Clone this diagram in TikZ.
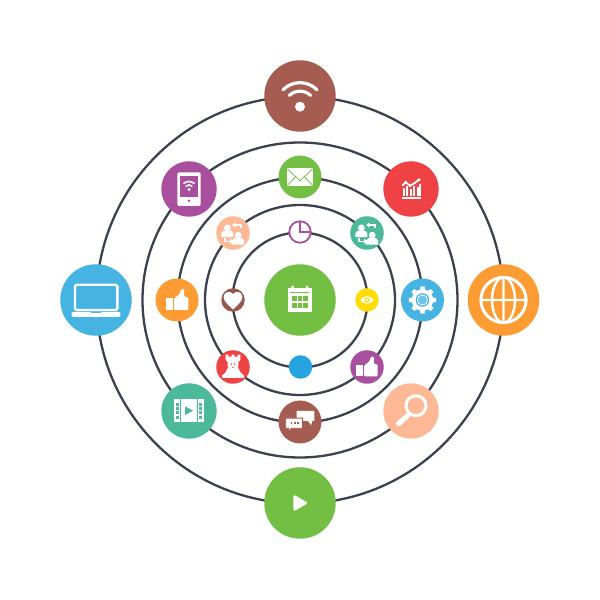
\documentclass[tikz,border=0pt]{standalone}
\definecolor{ringc}{HTML}{3C4150}
\definecolor{brownc}{HTML}{A65D51}
\definecolor{heartc}{HTML}{96584E}
\definecolor{purplec}{HTML}{A8509E}
\definecolor{redc}{HTML}{EE4245}
\definecolor{greenc}{HTML}{72BF44}
\definecolor{peachc}{HTML}{FDB995}
\definecolor{tealc}{HTML}{4CB99A}
\definecolor{bluec}{HTML}{45B4E2}
\definecolor{orangec}{HTML}{FD9C33}
\definecolor{yellowc}{HTML}{FEDD00}
\definecolor{dotc}{HTML}{26A4DF}
\tikzset{
  ring/.style={draw=ringc,line width=2.3pt},
  disc/.style={circle,inner sep=0pt,minimum size=#1,draw=none},
  bigdisc/.style={disc=71.5pt},
  middisc/.style={disc=55.5pt},
  smalldisc/.style={disc=43pt},
  tinydisc/.style={disc=33.5pt},
  pointdisc/.style={disc=23.5pt},
  wline/.style={draw=white,line cap=round},
  person/.pic={
    \fill[white] (0,0) circle (3.4);
    \fill[white] (-6,-9.4) -- (-6,-5.6) .. controls (-5.8,-3.2) and (-3.4,-2.6) .. (0,-2.6) .. controls (3.4,-2.6) and (5.8,-3.2) .. (6,-5.6) -- (6,-9.4) -- cycle;
  },
  peoplepic/.pic={
    \pic at (-5.6,5.2) {person};
    \pic at (5.2,-2.2) {person};
    \draw[white,line width=1.5pt] (8,4.6) -- (8,8) -- (2,8);
    \fill[white] (2.4,10.6) -- (-0.9,8) -- (2.4,5.4) -- cycle;
    \draw[white,line width=1.5pt] (-8.2,-5) -- (-8.2,-8.5) -- (-2.4,-8.5);
    \fill[white] (-2.8,-5.9) -- (0.5,-8.5) -- (-2.8,-11.1) -- cycle;
  },
  thumbpic/.pic={
    \fill[white] (-11.5,1.6) rectangle (-4,-10);
    \fill[white,rounded corners=1pt] (-2.9,1.6) -- (2.2,5.4) -- (4.3,10.8) -- (7.2,10.8) -- (7.2,3.4) -- (11.3,2.6) -- (11.3,-10) -- (-2.9,-10) -- cycle;
  },
  wifipic/.pic={
    \fill[white] (0,-10.7) circle (5);
    \begin{scope}[shift={(0,-10.7)},wline,line width=3.2pt]
      \draw (45:24) arc[start angle=45,end angle=135,radius=24];
      \draw (47:15.5) arc[start angle=47,end angle=133,radius=15.5];
    \end{scope}
  },
  tabletpic/.pic={
    \fill[white,rounded corners=2pt] (-11.7,16.7) rectangle (11.7,-17);
    \fill[purplec] (-8.9,13.2) rectangle (8.9,-8);
    \fill[purplec] (0,-11.8) circle (1.3);
    \fill[white] (0,-0.5) circle (1.6);
    \begin{scope}[wline,line width=1.6pt,shift={(0,-0.5)}]
      \draw (50:4.5) arc[start angle=50,end angle=130,radius=4.5];
      \draw (50:8) arc[start angle=50,end angle=130,radius=8];
    \end{scope}
  },
  chartpic/.pic={
    \fill[white] (-9.3,-8.4) rectangle (10,-10.2);
    \foreach \bx/\bt in {-7.5/1,-4/3.3,-0.5/0.2,3/2.8,6.5/1.5,8.8/5}{
      \fill[white] (\bx-1,-6.6) rectangle (\bx+1,\bt);
    }
    \draw[white,line width=1.8pt,line join=round] (-8.7,3.3) -- (-5.3,6.7) -- (-1,3.3) -- (3.3,5.7) -- (8,9.3);
    \foreach \dx/\dy in {-5.3/6.7,-1/3.3,8/9.3}{\fill[white] (\dx,\dy) circle (1.6);}
  },
  envpic/.pic={
    \fill[white] (-13.3,8.8) rectangle (13.3,-9);
    \draw[greenc,line width=0.8pt] (-12.6,8) -- (0,-3.7) -- (12.6,8);
    \draw[greenc,line width=0.8pt] (-12.6,-8.4) -- (-4.4,0.2) (12.6,-8.4) -- (4.4,0.2);
  },
  piepic/.pic={
    \draw[purplec,line width=1.6pt] (0,10.6) -- (0,0) -- (10.6,0);
  },
  heartpic/.pic={
    \fill[white] (0,-9.4) .. controls (-3,-6.4) and (-9.4,-2) .. (-9.4,3) .. controls (-9.4,8.4) and (-2.6,9.6) .. (0,6) .. controls (2.6,9.6) and (9.4,8.4) .. (9.4,3) .. controls (9.4,-2) and (3,-6.4) .. (0,-9.4) -- cycle;
  },
  rookpic/.pic={
    \fill[white] (-7.4,12.4) -- (-4.6,12.4) -- (-4.6,10.4) -- (-1.4,10.4) -- (-1.4,12.4) -- (1.4,12.4) -- (1.4,10.4) -- (4.6,10.4) -- (4.6,12.4) -- (7.4,12.4) -- (7.4,7.2) -- (5.4,5) -- (5.2,-1) -- (7.6,-5.6) -- (11,-8.6) -- (11,-11) -- (-11,-11) -- (-11,-8.6) -- (-7.6,-5.6) -- (-5.2,-1) -- (-5.4,5) -- (-7.4,7.2) -- cycle;
    \fill[redc] (-1.7,2.8) circle (0.8) (1.7,2.8) circle (0.8) (0,-0.4) circle (0.8);
  },
  bubblepic/.pic={
    \fill[white] (-3.3,11.2) -- (14.3,11.2) -- (14.3,1) -- (12.2,1) -- (11.2,-3.2) -- (8,1) -- (-3.3,1) -- cycle;
    \filldraw[fill=white,draw=brownc,line width=0.9pt] (-14.3,3.9) -- (2.6,3.9) -- (2.6,-6.3) -- (-8.6,-6.3) -- (-11.5,-9.5) -- (-11.5,-6.3) -- (-14.3,-6.3) -- cycle;
    \foreach \dx in {-8.4,-5.1,-1.8}{\fill[brownc] (\dx-0.8,-0.4) rectangle (\dx+0.8,-2);}
  },
  videopic/.pic={
    \fill[white] (-14.7,12) rectangle (14.7,-10.8);
    \draw[tealc,line width=0.8pt] (-8.6,12) -- (-8.6,-10.8) (8.6,12) -- (8.6,-10.8);
    \foreach \hy in {6.8,2.4,-2,-6.4}{
      \fill[tealc] (-13,\hy+1.5) rectangle (-10.2,\hy-1.5);
      \fill[tealc] (10.2,\hy+1.5) rectangle (13,\hy-1.5);
    }
    \fill[tealc] (-4,4.6) -- (-4,-4) -- (4,0.3) -- cycle;
  },
  searchpic/.pic={
    \draw[white,line width=3pt] (5,5.3) circle (10);
    \draw[wline,line width=5pt] (-3,-4.3) -- (-12.4,-12.6);
  },
  playpic/.pic={
    \fill[white,rounded corners=2.3pt] (-6.6,8.6) -- (8.2,0) -- (-6.6,-8.6) -- cycle;
  },
  laptoppic/.pic={
    \draw[white,line width=2.4pt,rounded corners=1.5pt] (-21,15.2) rectangle (21.3,-10);
    \fill[white,rounded corners=1.5pt] (-24.4,-11.8) rectangle (24.4,-17);
    \fill[bluec] (-5,-11.8) rectangle (5,-12.8);
  },
  globepic/.pic={
    \draw[white,line width=3pt] (0,0) circle (22.6);
    \draw[white,line width=2.4pt] (-22.6,0) -- (22.6,0) (0,22.6) -- (0,-22.6) (0,0) ellipse (11.5 and 22.6);
  },
  gearpic/.pic={
    \fill[white] (0,0) circle (10.8);
    \foreach \a in {0,45,...,315}{
      \fill[white,rotate=\a] (-2.6,9) -- (-2.1,13.6) -- (2.1,13.6) -- (2.6,9) -- cycle;
    }
    \fill[bluec] (0,0) circle (6.8);
    \fill[white] (0,0) circle (5.6);
    \fill[bluec!80!white] (0,0) circle (4.6);
  },
  eyepic/.pic={
    \fill[white] (-6.9,0) .. controls (-3,5) and (3,5) .. (6.9,0) .. controls (3,-5) and (-3,-5) .. (-6.9,0) -- cycle;
    \fill[yellowc] (0,0) circle (2.7);
    \fill[white] (0,0) circle (1.4);
  },
  calendarpic/.pic={
    \fill[white] (-11.7,11.7) rectangle (11.5,-12.3);
    \fill[white] (-8.6,14) rectangle (-6.2,11) (5.9,14) rectangle (8.3,11);
    \fill[greenc] (-9.6,8) rectangle (9.4,7.2);
    \fill[greenc] (-8.3,4.2) rectangle (7.9,-8.3);
    \draw[white,line width=1.1pt] (-2.9,4.2) -- (-2.9,-8.3) (2.5,4.2) -- (2.5,-8.3) (-8.3,-2) -- (7.9,-2);
  },
}
\begin{document}
\begin{tikzpicture}[x=1pt,y=1pt]
\useasboundingbox (0,0) rectangle (600,600);
\fill[white] (0,0) rectangle (600,600);
\coordinate (c) at (300,300);
\foreach \r in {203.5,157.5,122.5,95,67.5}{\draw[ring] (c) circle (\r);}

\node[bigdisc,fill=greenc] (core) at (300,300) {};
\node[bigdisc,fill=brownc] (wifi) at (300,504) {};
\node[bigdisc,fill=greenc] (play) at (300,97) {};
\node[bigdisc,fill=bluec] (laptop) at (96,300) {};
\node[bigdisc,fill=orangec] (globe) at (503.5,300) {};
\node[middisc,fill=purplec] (tablet) at (189,411) {};
\node[middisc,fill=redc] (chart) at (411,411) {};
\node[middisc,fill=tealc] (video) at (189,189) {};
\node[middisc,fill=peachc] (search) at (411,189) {};
\node[smalldisc,fill=greenc] (mail) at (300,423) {};
\node[smalldisc,fill=brownc] (talk) at (300,178) {};
\node[smalldisc,fill=orangec] (thumbA) at (177,300) {};
\node[smalldisc,fill=bluec] (gear) at (422.5,300) {};
\node[tinydisc,fill=peachc] (peopleA) at (233,367) {};
\node[tinydisc,fill=tealc] (peopleB) at (367,367) {};
\node[tinydisc,fill=redc] (rook) at (233,233) {};
\node[tinydisc,fill=purplec] (thumbB) at (367,233) {};
\node[pointdisc,fill=white,draw=purplec,line width=1.8pt,minimum size=21.5pt] (pie) at (300,368) {};
\node[pointdisc,fill=heartc] (heart) at (233,300) {};
\node[pointdisc,fill=yellowc] (eye) at (367,300) {};
\node[pointdisc,fill=dotc] (point) at (300.5,233) {};

\pic at (core) {calendarpic};
\pic at (wifi) {wifipic};
\pic at (play) {playpic};
\pic at (laptop) {laptoppic};
\pic at (globe) {globepic};
\pic at (tablet) {tabletpic};
\pic at (chart) {chartpic};
\pic at (video) {videopic};
\pic at (search) {searchpic};
\pic at (mail) {envpic};
\pic at (talk) {bubblepic};
\pic at (thumbA) {thumbpic};
\pic at (gear) {gearpic};
\pic at (peopleA) {peoplepic};
\pic at (peopleB) {peoplepic};
\pic at (rook) {rookpic};
\pic[scale=0.95] at (thumbB) {thumbpic};
\pic at (pie) {piepic};
\pic at (heart) {heartpic};
\pic at (eye) {eyepic};
\end{tikzpicture}
\end{document}
